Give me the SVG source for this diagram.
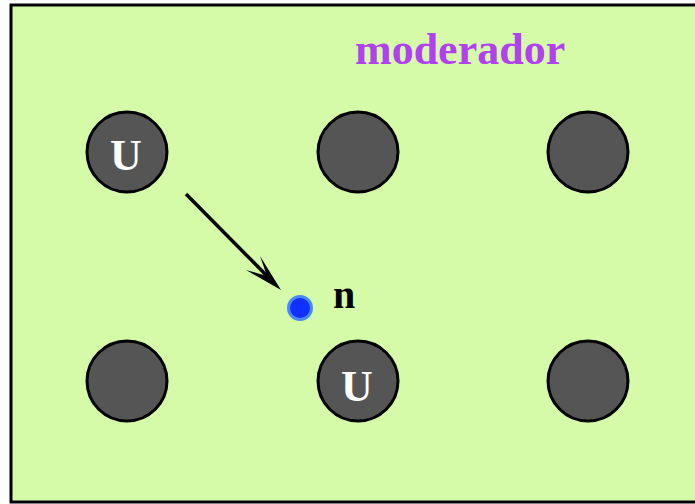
<svg xmlns="http://www.w3.org/2000/svg" width="695" height="504" viewBox="0 0 695 504">
<style>
.fuel{fill:#555555;stroke:#000;stroke-width:3}
.u{font-family:"Liberation Serif","Times New Roman",serif;font-weight:bold;font-size:44px;fill:#fff;text-anchor:middle}
.lbl{font-family:"Liberation Serif","Times New Roman",serif;font-weight:bold}
</style>
<rect x="11" y="5" width="700" height="497" fill="#d5fba8" stroke="#000" stroke-width="3"/>
<text class="lbl" x="355" y="64" font-size="44" fill="#b040f0">moderador</text>
<g id="u1"><circle class="fuel" cx="127" cy="152" r="40"/><text class="u" x="126" y="170">U</text></g>
<g id="c2"><circle class="fuel" cx="358" cy="152" r="40"/></g>
<g id="c3"><circle class="fuel" cx="588" cy="152" r="40"/></g>
<g id="c4"><circle class="fuel" cx="127" cy="381" r="40"/></g>
<g id="u2"><circle class="fuel" cx="358" cy="381" r="40"/><text class="u" x="357" y="401">U</text></g>
<g id="c6"><circle class="fuel" cx="588" cy="381" r="40"/></g>
<g id="neutron"><circle cx="300" cy="308" r="11.5" fill="#1030ff" stroke="#4a88ff" stroke-width="3"/><text class="lbl" x="333" y="308" font-size="40" fill="#000">n</text></g>
<g id="connectors">
<line x1="186" y1="194" x2="270" y2="279" stroke="#000" stroke-width="3.5"/>
<path d="M281,290 L260,256 L267,276 L246,270 Z" fill="#000"/>
</g>
</svg>
